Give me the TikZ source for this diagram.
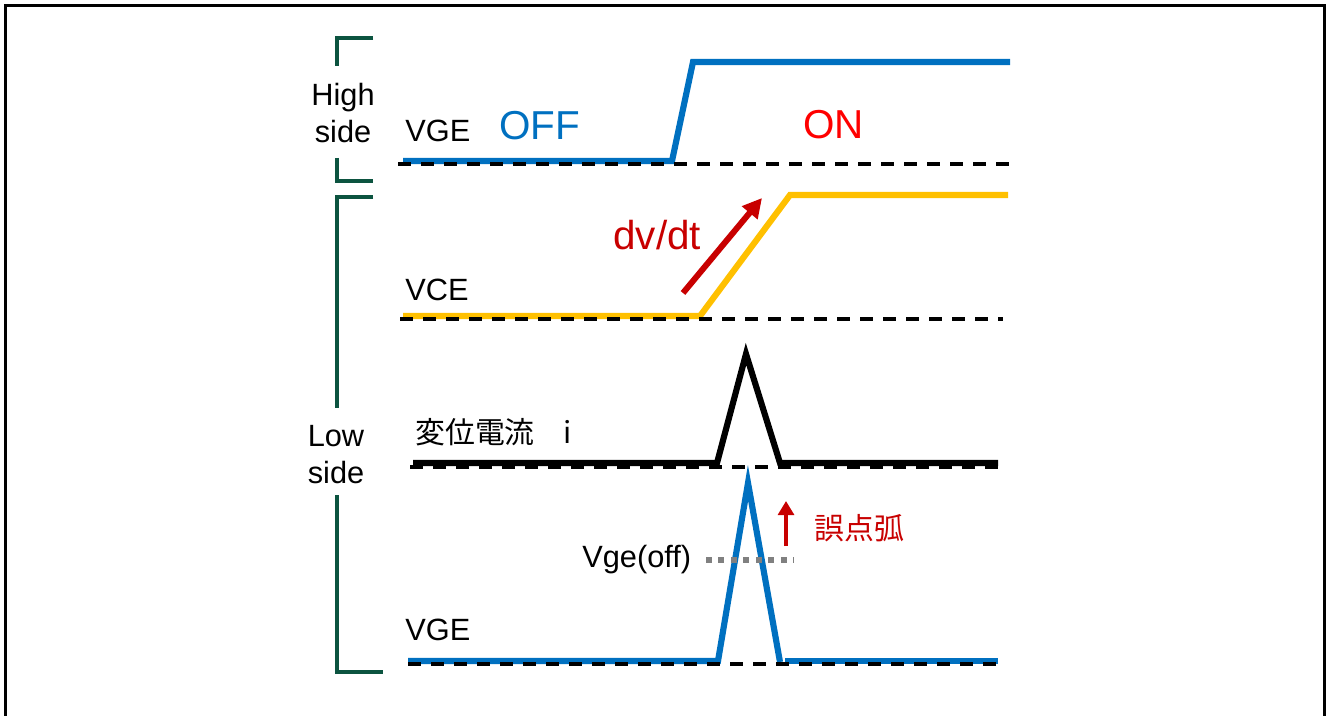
\documentclass[tikz,border=0pt]{standalone}
\usepackage{fontspec}
\setmainfont{Liberation Sans}
\newfontfamily\jpfont{Noto Sans CJK JP}
\usetikzlibrary{arrows.meta}
\definecolor{WBlue}{RGB}{0,112,192}
\definecolor{WYellow}{RGB}{255,192,0}
\definecolor{WRed}{RGB}{200,0,0}
\definecolor{WGreen}{RGB}{12,84,64}
\definecolor{WGray}{RGB}{128,128,128}

\begin{document}
\begin{tikzpicture}[
    x=0.02cm, y=-0.02cm,
    wave/.style={line width=3.5pt, line join=miter},
    zero/.style={line width=2pt, dash pattern=on 7.4pt off 5.7pt},
    bracket/.style={draw=WGreen, line width=2.8pt},
    lbl/.style={font=\fontsize{17.5}{21}\selectfont, inner sep=0pt},
    state/.style={font=\fontsize{23}{27}\selectfont, inner sep=0pt},
    jp/.style={font=\jpfont\fontsize{17}{20}\selectfont, inner sep=0pt},
    redarrow/.style={-{Triangle[length=11pt, width=11pt]}, line width=3.4pt, draw=WRed}
  ]
    \useasboundingbox (0,0) rectangle (1328,716);
    \draw[line width=1.7pt] (5.5,716) -- (5.5,5.5) -- (1324.5,5.5) -- (1324.5,716);

    % side brackets
    \draw[bracket] (373,38) -- (337,38) -- (337,66);
    \draw[bracket] (337,158) -- (337,181) -- (373,181);
    \draw[bracket] (373,197) -- (337,197) -- (337,408);
    \draw[bracket] (337,495) -- (337,672) -- (383,672);
    \node[lbl, align=center] (high) at (343,113) {High\\side};
    \node[lbl, align=center] (low) at (336,455) {Low\\side};

    % high side VGE
    \draw[wave, WBlue] (403,161) -- (672,161) -- (693,62) -- (1010,62);
    \draw[zero] (398,164) -- (1010,164);
    \node[lbl, anchor=base west] (vgeh) at (405,142) {VGE};
    \node[state, anchor=base west, text=WBlue] (off) at (499,140) {OFF};
    \node[state, anchor=base west, text=red] (on) at (803,139) {ON};

    % low side VCE
    \draw[wave, WYellow] (403,316) -- (700,316) -- (790,195) -- (1008,195);
    \draw[zero] (400,319) -- (1003,319);
    \node[lbl, anchor=base west] (vce) at (405,300) {VCE};
    \coordinate (dvs) at (683,293);
    \coordinate (dve) at (762,198);
    \draw[redarrow] (dvs) -- (dve);
    \node[state, anchor=base west, text=WRed] (dvdt) at (613,250) {dv/dt};

    % displacement current
    \draw[wave] (413,463) -- (717,463) -- (746,354) -- (780,463) -- (998,463);
    \draw[zero] (410,467) -- (1003,467);
    \node[jp, anchor=west] (cur) at (415,432) {変位電流\hspace{0.95em}i};

    % low side VGE
    \draw[wave, WBlue] (408,661) -- (718,661) -- (748,483) -- (780,662);
    \draw[wave, WBlue] (785,661) -- (998,661);
    \draw[zero] (408,664) -- (1003,664);
    \node[lbl, anchor=base west] (vgel) at (405,640) {VGE};
    \node[lbl, anchor=base west] (vgeoff) at (582,567) {Vge(off)};
    \draw[WGray, line width=3.4pt, dash pattern=on 3.4pt off 3.7pt] (706,560) -- (794,560);
    \coordinate (mfs) at (786,546);
    \coordinate (mfe) at (786,501);
    \draw[redarrow, -{Triangle[length=8pt, width=9pt]}, line width=2.6pt] (mfs) -- (mfe);
    \node[jp, anchor=west, text=WRed] (misfire) at (814,528) {誤点弧};
  \end{tikzpicture}
\end{document}
